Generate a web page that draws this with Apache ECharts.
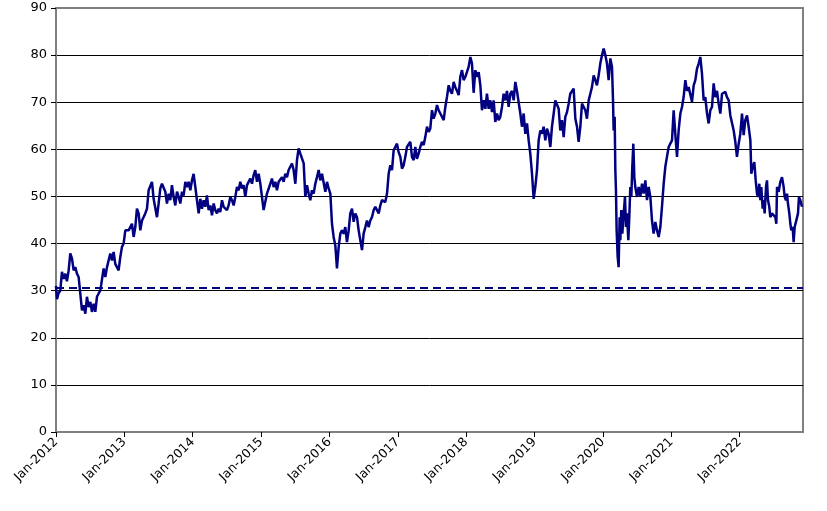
<!DOCTYPE html>
<html>
<head>
<meta charset="utf-8">
<script src="https://cdn.jsdelivr.net/npm/echarts@6/dist/echarts.min.js"></script>
<style>
html,body{margin:0;padding:0;background:#fff;}
#chart{width:827px;height:511px;}
</style>
</head>
<body>
<div id="chart"></div>
<script>
// Dates as decimal years
const years2012 = [2012.000,2012.014,2012.039,2012.063,2012.087,2012.112,2012.136,2012.160,2012.185,2012.209,2012.234,2012.258,2012.282,2012.307,2012.331,2012.355,2012.380,2012.404,2012.429,2012.453,2012.477,2012.502,2012.526,2012.551,2012.575,2012.599,2012.624,2012.648,2012.672,2012.697,2012.721,2012.746,2012.770,2012.794,2012.819,2012.843,2012.867,2012.892,2012.916,2012.941,2012.965,2012.989,2013.014,2013.038,2013.063,2013.087,2013.111,2013.136,2013.160,2013.184,2013.209,2013.233,2013.258,2013.282,2013.306,2013.331,2013.355,2013.379,2013.404,2013.428,2013.453,2013.477,2013.501,2013.526];
const values2012 = [31,28.2,29.5,30,34,32.5,33.6,32,34.3,37.9,36.8,34.3,35,33.6,32.9,29.4,25.8,26.9,25.1,28.7,26.5,27.6,25.5,27.2,25.5,28.7,29.4,30,29.7,34.7,32.9,35,34.7,37.9,36.4,38.2,35.7,35.4,34.3,37.2,39.3,40,42.8,42.5,42.8,42.5,44.2,41.4,43.5,47.4,46.4,42.8,44.9,45.3,46.4,47.4,51.3,51.7,53.1,49.5,49.2,45.6,48.5,51.7];

const years2013 = [2013.550,2013.575,2013.599,2013.623,2013.648,2013.672,2013.696,2013.721,2013.745,2013.770,2013.794,2013.818,2013.843,2013.867,2013.892,2013.916,2013.940,2013.965,2013.989,2014.013,2014.038,2014.062,2014.087,2014.111,2014.135,2014.160,2014.184,2014.208,2014.233,2014.257,2014.282,2014.306,2014.330,2014.355,2014.379,2014.403,2014.428,2014.452,2014.477,2014.501,2014.525,2014.550,2014.574,2014.599,2014.623,2014.647,2014.672,2014.696,2014.720,2014.745,2014.769,2014.794,2014.818,2014.842,2014.867,2014.891,2014.915,2014.940,2014.964,2014.989,2015.013,2015.037,2015.062,2015.086,2015.110,2015.135,2015.159,2015.184,2015.208,2015.232,2015.257,2015.281,2015.306,2015.330,2015.354,2015.379,2015.403,2015.427,2015.452,2015.476,2015.501,2015.525,2015.549,2015.574];
const values2013 = [52.7,52.4,51,48.5,50.6,49.2,52.4,49.9,48.1,51,49.9,48.5,51,50.2,53.1,52,53.1,51.3,53.4,54.8,52,49.2,46.4,49.5,47.4,49.2,47.8,50.2,47.1,48.1,46,48.5,47.1,46.4,47.4,46.7,49.2,47.8,47.4,47.1,48.1,49.9,49.2,48.1,49.9,52,51.3,53.1,51.7,52.4,49.9,52.4,53.1,53.8,52.7,54.5,55.6,53.1,54.8,52.7,49.9,47.1,47.1,50.6,51,52.7,53.8,52,53.1,51.3,53.1,52.7,54.1,53.1,54.8,54.1,55.6,56.3,57,55.6,52.7,57.7,60.2,59.1];

const years2015 = [2015.598,2015.623,2015.647,2015.671,2015.696,2015.720,2015.744,2015.769,2015.793,2015.818,2015.842,2015.866,2015.891,2015.915,2015.940,2015.964,2015.988,2016.013,2016.037,2016.061,2016.086,2016.110,2016.135,2016.159,2016.183,2016.208,2016.232,2016.256,2016.281,2016.305,2016.330,2016.354,2016.378,2016.403,2016.427,2016.451,2016.476,2016.500,2016.525,2016.549,2016.573,2016.598,2016.622,2016.647,2016.671,2016.695,2016.720,2016.744,2016.768,2016.793,2016.817,2016.842,2016.866,2016.890,2016.915,2016.939,2016.963,2016.988,2017.012,2017.037,2017.061,2017.085,2017.110,2017.134,2017.158,2017.183,2017.207,2017.232,2017.256,2017.280,2017.305,2017.329,2017.354,2017.378,2017.402,2017.427,2017.451,2017.475,2017.500,2017.524,2017.549,2017.573,2017.597,2017.622];
const values2015 = [58.7,57,49.9,52.4,50.6,49.2,51.3,50.6,52.7,54.1,55.6,53.4,54.8,54.5,51,53.1,51.7,50.6,44.2,41.4,39.6,34.7,39.3,42.1,42.8,42.1,43.5,40.3,42.8,46.4,47.4,44.6,46.4,45.6,42.8,42.8,38.6,42.1,43.5,44.9,43.5,44.9,45.6,47.1,47.8,47.4,46.4,48.1,49.2,49.5,48.8,50.6,54.8,56.6,55.6,59.8,60.5,61.2,59.4,58.4,55.9,56.6,58.4,60.5,60.9,61.6,58.4,57.7,60.5,58,59.1,60.5,61.6,60.9,62.6,64.8,63.7,64.4,68.3,66.5,67.6,69.4,68.3,67.6];

const years2017 = [2017.646,2017.671,2017.695,2017.719,2017.744,2017.768,2017.792,2017.817,2017.841,2017.866,2017.890,2017.914,2017.939,2017.963,2017.988,2018.012,2018.036,2018.061,2018.085,2018.109,2018.134,2018.158,2018.183,2018.207,2018.231,2018.256,2018.280,2018.304,2018.329,2018.353,2018.378,2018.402,2018.426,2018.451,2018.475,2018.499,2018.524,2018.548,2018.573,2018.597,2018.621,2018.646,2018.670,2018.695,2018.719,2018.743,2018.768,2018.792,2018.816,2018.841,2018.865,2018.890,2018.914,2018.938,2018.963,2018.987,2019.011,2019.036,2019.060,2019.085,2019.109,2019.133,2019.158,2019.182,2019.206,2019.231,2019.255,2019.280,2019.304,2019.328,2019.353,2019.377,2019.402,2019.426,2019.450,2019.475,2019.499,2019.523,2019.548,2019.572,2019.597,2019.621,2019.645,2019.670];
const values2017 = [67.9,66.2,69,71.1,73.6,72.4,71.8,74.3,73.2,72.4,71.5,75.4,76.8,74.7,75.4,75,77.5,79.6,78.2,72,76.8,75.4,76.4,73.6,68.3,70.4,68.6,71.8,68.6,70.4,67.9,70.4,65.8,67.6,66.2,66.9,69,71.8,70.4,72.4,69,71.8,72.4,70.4,74.3,72.4,72.4,67.6,64.8,67.6,63.3,65.5,61.9,59.1,54.8,49.5,52,55.6,61.9,64,63.3,64.8,61.9,64.4,63.3,60.5,64.8,67.6,70.4,70.8,68.6,64,66.2,62.6,66.9,67.9,69.7,71.8,71.5,72.9,66.5,64.8,61.6,64.8];

const years2019 = [2019.694,2019.718,2019.743,2019.767,2019.792,2019.816,2019.840,2019.865,2019.889,2019.913,2019.938,2019.962,2019.987,2020.011,2020.035,2020.060,2020.084,2020.109,2020.133,2020.148,2020.157,2020.172,2020.182,2020.191,2020.201,2020.216,2020.230,2020.245,2020.255,2020.269,2020.284,2020.304,2020.323,2020.338,2020.352,2020.372,2020.386,2020.401,2020.416,2020.430,2020.445,2020.460,2020.474,2020.499,2020.523,2020.547,2020.572,2020.596,2020.621,2020.645,2020.669,2020.694,2020.718,2020.742,2020.767,2020.791,2020.816,2020.840,2020.864,2020.889,2020.913,2020.937,2020.962,2020.986,2021.011,2021.035,2021.059,2021.084,2021.108,2021.133,2021.157,2021.181,2021.206,2021.230,2021.254,2021.279,2021.303,2021.328,2021.352,2021.376,2021.401,2021.425,2021.449,2021.474,2021.498,2021.523,2021.547,2021.571,2021.596,2021.620,2021.644,2021.669,2021.693,2021.718];
const values2019 = [69.7,69,68.3,66.5,70.4,71.8,73.2,75.7,74.7,73.6,75.7,78.2,80,81.4,80,78.2,74.7,79.3,77.5,70.4,64,66.9,55.6,51.3,42.8,37.2,35,45.6,40.7,47.1,42.1,46.4,49.9,43.5,46.4,40.7,45.6,52,49.9,56.3,61.2,54.1,52,49.9,52,49.9,52.7,50.6,53.4,49.2,52,49.9,44.9,42.1,44.6,42.8,41.4,43.5,47.8,52.7,56.3,58.4,60.5,61.2,61.9,68.3,63.3,58.4,64,67.6,69,71.1,74.7,72.4,73.2,72.9,70.1,73.6,74.7,77.1,78.2,79.6,76.1,70.4,71.1,67.6,65.5,68.3,69,74,71.1,72.4,69.7,67.6];

const years2021 = [2021.742,2021.766,2021.791,2021.815,2021.840,2021.864,2021.888,2021.913,2021.937,2021.961,2021.986,2022.010,2022.035,2022.059,2022.083,2022.108,2022.132,2022.157,2022.171,2022.191,2022.215,2022.235,2022.254,2022.269,2022.288,2022.303,2022.317,2022.337,2022.352,2022.366,2022.386,2022.400,2022.415,2022.434,2022.449,2022.473,2022.498,2022.522,2022.537,2022.547,2022.571,2022.595,2022.620,2022.644,2022.659,2022.678,2022.693,2022.707,2022.727,2022.742,2022.756,2022.776,2022.790,2022.805,2022.824,2022.839,2022.854,2022.868,2022.888,2022.912];
const values2021 = [71.8,72.2,72.2,71.1,70.4,67.2,67.6,64,61.6,58.4,61.2,63.3,67.6,63,66.2,67.2,64.8,61.9,54.8,56.3,57.3,53.4,50.6,49.9,52.7,49.2,52,47.4,49.2,46.4,52,53.4,49.2,47.8,45.6,46.4,46.4,45.6,44.2,52,51,53.1,54.1,52,49.9,49.2,50.6,48.5,46.4,44.2,42.8,43.5,40.3,43.5,44.6,44.9,46.4,49.9,49.2,47.8];

const tickYears = [2012,2013,2014,2015,2016,2017,2018,2019,2020,2021,2022];
const refLevel = 30.7;

const allYears = [].concat(years2012, years2013, years2015, years2017, years2019, years2021);
const allValues = [].concat(values2012, values2013, values2015, values2017, values2019, values2021);
const seriesData = allYears.map((y, i) => [y, allValues[i]]);

const chart = echarts.init(document.getElementById('chart'), null, {renderer: 'canvas'});
const font = 'DejaVu Sans';
chart.setOption({
  animation: false,
  backgroundColor: '#fff',
  grid: {left: 56, right: 24, top: 8, bottom: 79, show: true, borderColor: '#808080', borderWidth: 2, backgroundColor: '#fff'},
  xAxis: {
    type: 'value', min: 2012, max: 2022.927,
    axisLine: {show: true, onZero: false, lineStyle: {color: '#808080', width: 2}},
    axisTick: {show: true, length: 5, lineStyle: {color: '#000', width: 1}, customValues: tickYears},
    axisLabel: {rotate: 45, margin: 8, fontFamily: font, fontSize: 12.5, color: '#000', customValues: tickYears,
      formatter: v => 'Jan-' + v},
    splitLine: {show: false}
  },
  yAxis: {
    type: 'value', min: 0, max: 90, interval: 10,
    axisLine: {show: true, lineStyle: {color: '#808080', width: 2}},
    axisTick: {show: true, length: 5, lineStyle: {color: '#000', width: 1}},
    axisLabel: {margin: 9, fontFamily: font, fontSize: 13, color: '#000'},
    splitLine: {show: true, showMinLine: false, showMaxLine: false, lineStyle: {color: '#000', width: 1}}
  },
  series: [{
    type: 'line', data: seriesData, symbol: 'none', showSymbol: false,
    lineStyle: {color: '#000080', width: 2.5},
    z: 3,
    markLine: {
      silent: true, symbol: 'none', label: {show: false},
      lineStyle: {color: '#000080', width: 2, type: [8, 5]},
      data: [{yAxis: refLevel}]
    }
  }]
});
</script>
</body>
</html>
